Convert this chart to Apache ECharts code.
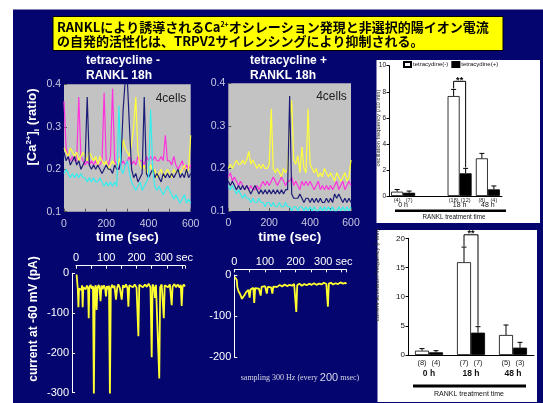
<!DOCTYPE html>
<html><head><meta charset="utf-8">
<script src="https://cdn.jsdelivr.net/npm/echarts/dist/echarts.min.js"></script>
<style>html,body{margin:0;padding:0;background:#fff;}#c{width:543px;height:403px;}</style>
</head><body><div id="c"></div>
<script>
// ---- Ca2+ traces (time in s, ratio) ----
const tTop = [0,10,20,30,40,50,60,70,80,90,100,110,120,130,140,150,160,170,180,190,200,210,220,230,240,250,260,270,280,290,300,310,320,330,340,350,360,370,380,390,400,410,420,430,440,450,460,470,480,490,500,510,520,530,540,550,560,570,580,590,600];
const tlMagenta = [0.36,0.25,0.23,0.22,0.23,0.22,0.22,0.37,0.23,0.22,
  0.21,0.22,0.21,0.22,0.21,0.22,0.21,0.21,0.22,0.38,
  0.22,0.21,0.23,0.39,0.22,0.21,0.20,0.21,0.22,0.21,
  0.22,0.23,0.21,0.22,0.21,0.23,0.22,0.22,0.21,0.23,
  0.22,0.23,0.22,0.23,0.22,0.22,0.23,0.22,0.28,0.22,
  0.22,0.21,0.23,0.21,0.20,0.21,0.22,0.20,0.21,0.20,0.21];
const tlYellow = [0.25,0.24,0.23,0.25,0.24,0.23,0.24,0.22,0.23,0.24,
  0.23,0.22,0.24,0.23,0.22,0.23,0.21,0.23,0.22,0.21,
  0.22,0.20,0.21,0.22,0.21,0.20,0.22,0.23,0.27,0.25,
  0.24,0.23,0.26,0.30,0.37,0.24,0.21,0.20,0.21,0.19,
  0.20,0.21,0.19,0.20,0.18,0.19,0.20,0.18,0.19,0.20,
  0.19,0.18,0.20,0.19,0.20,0.19,0.20,0.21,0.19,0.20,0.28];
const tlNavy = [0.24,0.22,0.23,0.21,0.22,0.23,0.21,0.22,0.20,0.21,
  0.22,0.37,0.21,0.20,0.21,0.20,0.21,0.20,0.19,0.20,
  0.21,0.20,0.20,0.19,0.21,0.20,0.20,0.22,0.34,0.41,
  0.41,0.30,0.20,0.18,0.19,0.17,0.18,0.19,0.37,0.19,
  0.18,0.19,0.20,0.18,0.19,0.18,0.17,0.19,0.18,0.19,
  0.18,0.19,0.18,0.19,0.20,0.18,0.19,0.18,0.20,0.18,0.19];
const tlCyan = [0.19,0.20,0.19,0.18,0.19,0.18,0.19,0.18,0.19,0.18,
  0.18,0.17,0.18,0.17,0.18,0.17,0.17,0.18,0.17,0.16,
  0.17,0.16,0.17,0.16,0.17,0.16,0.35,0.20,0.19,0.21,
  0.22,0.19,0.17,0.16,0.15,0.16,0.17,0.15,0.16,0.17,
  0.18,0.34,0.20,0.16,0.15,0.16,0.15,0.14,0.15,0.16,
  0.15,0.14,0.13,0.14,0.13,0.12,0.13,0.14,0.12,0.13,0.12];
const tmYellow = [0.20,0.21,0.20,0.21,0.22,0.21,0.21,0.22,0.21,0.22,
  0.24,0.21,0.22,0.21,0.20,0.21,0.20,0.21,0.20,0.20,
  0.21,0.34,0.20,0.19,0.20,0.19,0.18,0.20,0.19,0.20,
  0.30,0.36,0.22,0.21,0.23,0.19,0.25,0.20,0.19,0.34,
  0.21,0.20,0.19,0.20,0.18,0.19,0.18,0.20,0.19,0.18,
  0.19,0.18,0.17,0.19,0.18,0.17,0.18,0.19,0.17,0.18,0.22];
const tmMagenta = [0.18,0.19,0.17,0.18,0.17,0.16,0.17,0.16,0.15,0.16,
  0.15,0.16,0.15,0.15,0.16,0.15,0.16,0.17,0.16,0.17,
  0.16,0.17,0.18,0.17,0.16,0.17,0.18,0.17,0.16,0.17,
  0.17,0.18,0.16,0.17,0.16,0.15,0.17,0.16,0.17,0.16,
  0.17,0.16,0.15,0.16,0.17,0.15,0.16,0.15,0.16,0.15,
  0.16,0.15,0.16,0.17,0.15,0.16,0.17,0.15,0.16,0.17,0.16];
const tmNavy = [0.17,0.16,0.17,0.16,0.15,0.16,0.15,0.16,0.15,0.16,
  0.15,0.14,0.15,0.16,0.15,0.14,0.15,0.14,0.15,0.14,
  0.15,0.14,0.15,0.14,0.15,0.14,0.15,0.14,0.15,0.15,
  0.37,0.14,0.13,0.13,0.13,0.14,0.13,0.12,0.13,0.13,
  0.12,0.13,0.12,0.13,0.12,0.13,0.12,0.12,0.13,0.12,
  0.13,0.12,0.14,0.13,0.14,0.13,0.12,0.13,0.12,0.13,0.12];
const tmCyan = [0.16,0.15,0.16,0.15,0.14,0.15,0.14,0.13,0.14,0.13,
  0.13,0.12,0.13,0.12,0.12,0.13,0.12,0.12,0.11,0.12,
  0.12,0.11,0.12,0.11,0.11,0.12,0.11,0.11,0.12,0.11,
  0.11,0.10,0.11,0.11,0.10,0.11,0.11,0.10,0.11,0.10,
  0.11,0.10,0.11,0.10,0.10,0.11,0.10,0.11,0.10,0.11,
  0.10,0.11,0.10,0.10,0.11,0.10,0.11,0.10,0.11,0.10,0.11];

// ---- current traces (s, pA) ----
const tBL = [2,4,6,8,10,14,18,20,22,24,28,32,36,40,42,44,48,52,56,59,62,65,68,71,75,78,81,84,88,92,96,99,102,106,109,112,115,119,123,127,132,136,140,145,151,155,160,165,170,173,176,182,188,194,200,206,209,215,221,228,234,240,246,250,253,258,261,264,269,275,278,283,290,293,298,304,310,316,319,325,330,336,342,346,349,352,356,360];
const vBL = [-3,-2,-40,-85,-38,-33,-42,-30,-85,-35,-30,-40,-31,-38,-113,-35,-29,-39,-32,-310,-38,-30,-92,-36,-29,-39,-70,-31,-40,-30,-37,-58,-32,-40,-31,-313,-38,-29,-37,-31,-66,-36,-28,-37,-66,-30,-36,-28,-37,-84,-30,-27,-35,-28,-36,-158,-29,-26,-35,-28,-34,-26,-35,-211,-28,-36,-62,-29,-27,-264,-35,-28,-113,-30,-26,-35,-28,-80,-33,-27,-35,-28,-36,-29,-82,-34,-28,-33];
const tBM = [2,5,8,10,14,18,22,25,28,31,34,38,42,46,50,53,57,62,65,68,74,80,86,89,95,100,106,109,115,120,124,127,133,140,148,156,164,172,180,188,195,202,205,212,220,228,236,244,252,260,268,276,284,292,300,305,308,315,322,330,338,346,354,362,365];
const vBM = [-5,-8,-12,-30,-40,-45,-52,-58,-62,-55,-48,-42,-38,-36,-55,-35,-33,-31,-68,-32,-30,-33,-50,-29,-31,-27,-45,-29,-26,-30,-45,-28,-25,-29,-24,-28,-23,-27,-24,-26,-22,-90,-25,-21,-26,-22,-25,-21,-24,-20,-24,-21,-23,-19,-22,-77,-21,-19,-23,-20,-22,-18,-21,-19,-22];

// ---- bar charts ----
const oscCats = ['0 h', '', '18 h', '48 h'];
const oscNeg = [0.33, '-', 7.67, 2.89];
const oscNegErr = [0.17, 0, 0.51, 0.38];
const oscPos = [0.25, '-', 1.74, 0.51];
const oscPosErr = [0.13, 0, 0.38, 0.26];
const oscNegN = ['(4)', '', '(18)', '(8)'];
const oscPosN = ['(7)', '', '(12)', '(4)'];
const oscSig = 8.8;
const curCats = ['0 h', '18 h', '48 h'];
const curNeg = [0.74, 15.9, 3.43];
const curNegErr = [0.36, 2.6, 1.71];
const curPos = [0.46, 3.83, 1.26];
const curPosErr = [0.28, 1.03, 0.91];
const curNegN = ['(8)', '(7)', '(5)'];
const curPosN = ['(4)', '(7)', '(3)'];
const curSig = 20.6;

const FONT = 'Liberation Sans, Arial, sans-serif';
const chart = echarts.init(document.getElementById('c'));

function trace(xi, arr, color) {
  return {type:'line', xAxisIndex:xi, yAxisIndex:xi, data:tTop.map((t,i)=>[t,arr[i]]),
    symbol:'none', lineStyle:{color:color, width:1.2}, itemStyle:{color:color}, animation:false, silent:true};
}
function current(xi, ts, vs) {
  return {type:'line', xAxisIndex:xi, yAxisIndex:xi, data:ts.map((t,i)=>[t,vs[i]]),
    symbol:'none', lineStyle:{color:'#ffff30', width:1.8}, animation:false, silent:true};
}
function topX(gi) {
  return {gridIndex:gi, type:'value', min:0, max:600, interval:100,
    axisLine:{show:false, onZero:false}, axisTick:{inside:true, length:3, lineStyle:{color:'#555'}},
    splitLine:{show:false},
    axisLabel:{color:'#c8c8e0', fontSize:10.5, margin:7, formatter:v => v % 200 === 0 ? String(v) : ''},
    name:'time (sec)', nameLocation:'middle', nameGap:18,
    nameTextStyle:{color:'#fff', fontWeight:'bold', fontSize:13.5}};
}
function topY(gi) {
  return {gridIndex:gi, type:'value', min:0.1, max:0.4, interval:0.1,
    axisLine:{show:false, onZero:false}, axisTick:{inside:true, length:3, lineStyle:{color:'#555'}},
    splitLine:{show:false},
    axisLabel:{color:'#c8c8e0', fontSize:10.5, margin:3, formatter:v => v.toFixed(1)}};
}
function curX(gi, max, off) {
  return {gridIndex:gi, type:'value', position:'top', offset:off, min:0, max:max, interval:50,
    axisLine:{onZero:false, lineStyle:{color:'#fff', width:1}},
    axisTick:{inside:true, length:3, lineStyle:{color:'#fff'}}, splitLine:{show:false},
    axisLabel:{color:'#fff', fontSize:11, margin:2,
      formatter:v => (v % 100 !== 0) ? '' : (v === 300 ? '{p|300 sec}' : String(v)),
      rich:{p:{color:'#fff', fontSize:11, padding:[0,0,0,14]}}}};
}
function curY(gi, min, off) {
  return {gridIndex:gi, type:'value', min:min, max:0, interval:100, offset:off,
    axisLine:{onZero:false, lineStyle:{color:'#fff'}},
    axisTick:{inside:true, length:3, lineStyle:{color:'#fff'}}, splitLine:{show:false},
    axisLabel:{color:'#fff', fontSize:11, margin:3}};
}
function errBars(xi, vals, errs, side, bw) {
  const d = [];
  vals.forEach((v,i) => { if (v !== '-') d.push([i, v, errs[i]]); });
  return {type:'custom', xAxisIndex:xi, yAxisIndex:xi, clip:false, z:5, silent:true, data:d,
    encode:{x:0, y:1},
    renderItem:(params, api) => {
      const x = api.value(0), v = api.value(1), e = api.value(2);
      const a = api.coord([x, v]), b = api.coord([x, v + e]);
      const px = a[0] + side * bw / 2;
      return {type:'group', children:[
        {type:'line', shape:{x1:px, y1:a[1], x2:px, y2:b[1]}, style:{stroke:'#000', lineWidth:1}},
        {type:'line', shape:{x1:px-2.5, y1:b[1], x2:px+2.5, y2:b[1]}, style:{stroke:'#000', lineWidth:1}}
      ]};
    }};
}
function bracket(xi, cat, level, left, right, bw, fs) {
  return {type:'custom', xAxisIndex:xi, yAxisIndex:xi, clip:false, z:5, silent:true,
    data:[[cat, level, left, right]], encode:{x:0, y:1},
    renderItem:(params, api) => {
      const x = api.value(0);
      const m = api.coord([x, api.value(1)]);
      const l = api.coord([x, api.value(2)]);
      const r = api.coord([x, api.value(3)]);
      const xl = m[0] - bw / 2, xr = m[0] + bw / 2;
      return {type:'group', children:[
        {type:'polyline', shape:{points:[[xl, l[1] - 1], [xl, m[1]], [xr, m[1]], [xr, r[1] - 1]]},
          style:{stroke:'#000', lineWidth:1, fill:null}},
        {type:'text', x:(xl + xr) / 2, y:m[1] - 0.8,
          style:{text:'**', fontSize:fs, fontWeight:'bold', fill:'#000', align:'center', verticalAlign:'middle', fontFamily:FONT}}
      ]};
    }};
}
function bars(xi, name, vals, counts, color, bw, lfs, dist) {
  return {type:'bar', name:name, xAxisIndex:xi, yAxisIndex:xi, data:vals, barWidth:bw, barGap:'0%',
    itemStyle:{color:color, borderColor:'#000', borderWidth:0.8}, animation:false, silent:true,
    label:{show:true, position:'bottom', distance:dist, fontSize:lfs, color:'#222', fontFamily:FONT,
      formatter:p => counts[p.dataIndex]}};
}
function gtext(x, y, text, o) {
  return Object.assign({type:'text', x:x, y:y, z:20,
    style:Object.assign({text:text, fill:'#fff', fontFamily:FONT, align:'center', verticalAlign:'middle'}, o || {})});
}

const option = {
  animation:false,
  backgroundColor:'#ffffff',
  textStyle:{fontFamily:FONT},
  legend:{data:['tetracydine(-)', 'tetracydine(+)'], left:403, top:61, padding:0, icon:'rect',
    itemWidth:7, itemHeight:5, itemGap:3, selectedMode:false,
    textStyle:{fontSize:6, color:'#111', padding:[0,0,0,-3]}},
  grid:[
    {left:64, top:84.3, width:126.7, height:127.4, show:true, backgroundColor:'#c3c3c3', borderWidth:0},
    {left:228.3, top:83.3, width:122.7, height:127.7, show:true, backgroundColor:'#c3c3c3', borderWidth:0},
    {left:76, top:273.3, width:109, height:119.4},
    {left:234.3, top:275, width:112, height:82.3},
    {left:389, top:65.7, width:113, height:130.3},
    {left:408, top:238.3, width:126, height:116.7}
  ],
  xAxis:[
    topX(0), topX(1), curX(2, 360, 7.6), curX(3, 365, 5.7),
    {gridIndex:4, type:'category', data:oscCats,
      axisLine:{onZero:false, lineStyle:{color:'#000'}}, axisTick:{show:false},
      axisLabel:{interval:0, color:'#111', fontSize:7, margin:6}},
    {gridIndex:5, type:'category', data:curCats,
      axisLine:{onZero:false, lineStyle:{color:'#000'}}, axisTick:{show:false},
      axisLabel:{interval:0, color:'#111', fontSize:8.5, fontWeight:'bold', margin:14}}
  ],
  yAxis:[
    topY(0), topY(1), curY(2, -300, 4), curY(3, -200, 0),
    {gridIndex:4, type:'value', min:0, max:10, interval:2,
      axisLine:{show:true, onZero:false, lineStyle:{color:'#000'}},
      axisTick:{show:true, length:2.5, lineStyle:{color:'#000'}}, splitLine:{show:false},
      axisLabel:{color:'#111', fontSize:6.5, margin:3}},
    {gridIndex:5, type:'value', min:0, max:20, interval:5,
      axisLine:{show:true, onZero:false, lineStyle:{color:'#000'}},
      axisTick:{show:true, length:2.5, lineStyle:{color:'#000'}}, splitLine:{show:false},
      axisLabel:{color:'#111', fontSize:8, margin:3}}
  ],
  series:[
    trace(0, tlMagenta, '#ff33dd'), trace(0, tlYellow, '#ffff3a'), trace(0, tlNavy, '#1c1c78'), trace(0, tlCyan, '#33eeee'),
    trace(1, tmYellow, '#ffff3a'), trace(1, tmMagenta, '#ff33dd'), trace(1, tmNavy, '#1c1c78'), trace(1, tmCyan, '#33eeee'),
    current(2, tBL, vBL), current(3, tBM, vBM),
    bars(4, 'tetracydine(-)', oscNeg, oscNegN, '#ffffff', 12, 5.5, 1),
    bars(4, 'tetracydine(+)', oscPos, oscPosN, '#000000', 12, 5.5, 1),
    errBars(4, oscNeg, oscNegErr, -1, 12), errBars(4, oscPos, oscPosErr, 1, 12),
    bracket(4, 2, oscSig, oscNeg[2] + oscNegErr[2], oscPos[2] + oscPosErr[2], 12, 9),
    bars(5, 'cur(-)', curNeg, curNegN, '#ffffff', 14, 7.5, 3.5),
    bars(5, 'cur(+)', curPos, curPosN, '#000000', 14, 7.5, 3.5),
    errBars(5, curNeg, curNegErr, -1, 14), errBars(5, curPos, curPosErr, 1, 14),
    bracket(5, 1, curSig, curNeg[1] + curNegErr[1], curPos[1] + curPosErr[1], 14, 9)
  ],
  graphic:[
    {type:'rect', z:-10, shape:{x:13, y:9.5, width:530, height:394}, style:{fill:'#050570'}},
    {type:'rect', z:-9, shape:{x:53, y:16.5, width:450, height:34}, style:{fill:'#ffff00', stroke:'#000', lineWidth:1}},
    {type:'text', z:20, x:57, y:20.5, style:{
      text:'{b|RANKLにより誘導されるCa}{s|2+}{b|オシレーション発現と非選択的陽イオン電流}\n{b|の自発的活性化は、TRPV2サイレンシングにより抑制される。}',
      align:'left', verticalAlign:'top',
      rich:{b:{fontSize:13, fontWeight:'bold', fill:'#000', lineHeight:13.5, fontFamily:'Noto Sans CJK JP'},
            s:{fontSize:7, fontWeight:'bold', fill:'#000', lineHeight:8, verticalAlign:'top', fontFamily:'Noto Sans CJK JP'}}}},
    {type:'rect', z:-9, shape:{x:376.5, y:60, width:163.5, height:163}, style:{fill:'#ffffff'}},
    {type:'rect', z:-9, shape:{x:377.5, y:230, width:159.5, height:172}, style:{fill:'#ffffff'}},
    {type:'rect', z:-8, shape:{x:395, y:209.5, width:111, height:2.5}, style:{fill:'#000'}},
    {type:'rect', z:-8, shape:{x:413, y:384.5, width:113, height:3}, style:{fill:'#000'}},
    gtext(86, 68.4, 'tetracycline -\nRANKL 18h', {align:'left', fontSize:12, fontWeight:'bold', lineHeight:14.7}),
    gtext(250, 68.4, 'tetracycline +\nRANKL 18h', {align:'left', fontSize:12, fontWeight:'bold', lineHeight:14.7}),
    gtext(171, 98.3, '4cells', {fill:'#222', fontSize:12}),
    gtext(331.5, 96.7, '4cells', {fill:'#222', fontSize:12}),
    {type:'text', z:20, x:32.7, y:127, rotation:Math.PI/2, style:{
      text:'{n|[Ca}{s|2+}{n|]}{u|i}{n| (ratio)}', align:'center', verticalAlign:'middle',
      rich:{n:{fontSize:13, fontWeight:'bold', fill:'#fff', lineHeight:16, fontFamily:FONT},
            s:{fontSize:8, fontWeight:'bold', fill:'#fff', lineHeight:9, verticalAlign:'top', fontFamily:FONT},
            u:{fontSize:8, fontWeight:'bold', fill:'#fff', lineHeight:9, verticalAlign:'bottom', fontFamily:FONT}}}},
    Object.assign(gtext(33.3, 319, 'current at -60 mV (pA)', {fontSize:12, fontWeight:'bold'}), {rotation:Math.PI/2}),
    {type:'text', z:20, x:300, y:377.5, style:{
      text:'{a|sampling 300 Hz (every }{b|200}{a| msec)}', align:'center', verticalAlign:'middle',
      rich:{a:{fontSize:8, fill:'#d8d8e8', fontFamily:'Liberation Serif, serif'},
            b:{fontSize:11, fill:'#d8d8e8', fontFamily:FONT}}}},
    Object.assign(gtext(378, 128, 'oscillation frequency (/10 min)', {fill:'#222', fontSize:5.8}), {rotation:Math.PI/2}),
    Object.assign(gtext(377.5, 275, 'current activation frequency (/ min)', {fill:'#222', fontSize:6}), {rotation:Math.PI/2}),
    gtext(454, 217, 'RANKL treatment time', {fill:'#111', fontSize:6.3}),
    gtext(469, 394, 'RANKL treatment time', {fill:'#111', fontSize:7})
  ]
};
chart.setOption(option);
</script></body></html>
